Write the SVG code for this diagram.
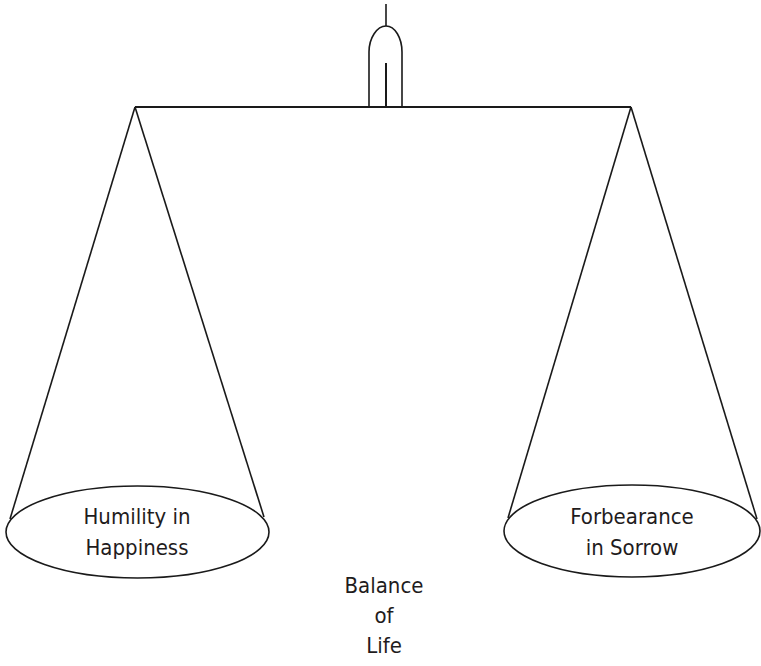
<svg xmlns="http://www.w3.org/2000/svg" width="761" height="666" viewBox="0 0 761 666">
<style>
.s{fill:none;stroke:#1a1a1a;stroke-width:1.6}
.t{font-family:"DejaVu Sans Condensed","Liberation Sans",sans-serif;font-stretch:condensed;font-size:22px;fill:#1f1c1d;text-anchor:middle}
</style>
<rect width="761" height="666" fill="#fff"/>
<g id="connectors">
<line class="s" x1="135" y1="107" x2="631" y2="107" style="stroke-width:2.2"/>
<line class="s" x1="386" y1="4" x2="386" y2="26"/>
<path class="s" d="M369,107 V52 C369,38 377,26 386,26 C395,26 402,38 402,52 V107"/>
<line class="s" x1="386" y1="63" x2="386" y2="107" style="stroke-width:2"/>
<line class="s" x1="135" y1="107" x2="10" y2="519"/>
<line class="s" x1="135" y1="107" x2="264" y2="517"/>
<line class="s" x1="631" y1="107" x2="508" y2="518"/>
<line class="s" x1="631" y1="107" x2="757" y2="519"/>
</g>
<g id="left-pan">
<ellipse class="s" cx="137.5" cy="532" rx="131.5" ry="46"/>
<text class="t" x="137" y="524">Humility in</text>
<text class="t" x="137" y="555">Happiness</text>
</g>
<g id="right-pan">
<ellipse class="s" cx="632" cy="531" rx="128" ry="46"/>
<text class="t" x="632" y="524">Forbearance</text>
<text class="t" x="632" y="555">in Sorrow</text>
</g>
<g id="label">
<text class="t" x="384" y="593">Balance</text>
<text class="t" x="384" y="623">of</text>
<text class="t" x="384" y="653">Life</text>
</g>
</svg>
